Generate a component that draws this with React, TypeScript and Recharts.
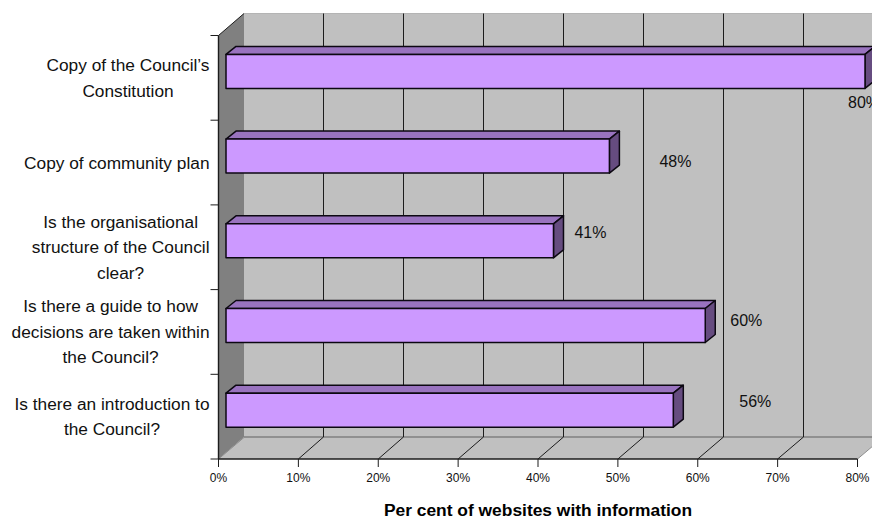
import React from "react";
import { Bar, BarChart, CartesianGrid, LabelList, ReferenceArea, XAxis, YAxis } from "recharts";

const FONT = '"Liberation Sans", Arial, sans-serif';

const categories = [
  "Copy of the Council\u2019s\nConstitution",
  "Copy of community plan",
  "Is the organisational\nstructure of the Council\nclear?",
  "Is there a guide to how\ndecisions are taken within\nthe Council?",
  "Is there an introduction to\nthe Council?",
];
const websiteShare = [80, 48, 41, 60, 56];
const percentTicks = [0, 10, 20, 30, 40, 50, 60, 70, 80];

const rows = categories.map((category, i) => ({ category, share: websiteShare[i] }));

// The data labels sit loosely around the bar ends, so each has its own nudge.
const labelNudge = [
  { dx: -1, dy: 31 },
  { dx: 66, dy: 5 },
  { dx: 37, dy: -8 },
  { dx: 41, dy: -5 },
  { dx: 82, dy: -9 },
];

const WIDTH = 872;
const HEIGHT = 519;
const PLOT = { left: 218.5, right: 14.5, top: 35.5, bottom: 60 };
const BAND = (HEIGHT - PLOT.top - PLOT.bottom) / categories.length;

// Depth of the box the chart stands in.
const WALL_DX = 25.5;
const WALL_DY = 22;
// Depth of each bar, and where it stands inside the box.
const BAR_DX = 10;
const BAR_DY = 8;
const BAR_SHIFT_X = 7.5;
const BAR_SHIFT_Y = -6.1;

const FRONT = "#cc99ff";
const TOP = "#9973bf";
const SIDE = "#664c80";
const EDGE = "#0c0812";
const AXIS = "#1c1c1c";
const TEXT_SIZE = 17.3;

const pts = (list: number[][]) => list.map((p) => p.join(",")).join(" ");

function measure(text: string, font: string) {
  const ctx = document.createElement("canvas").getContext("2d");
  if (!ctx) return text.length * 7;
  ctx.font = font;
  return ctx.measureText(text).width;
}

function Box({ x, y, width, height }: any) {
  const b = y + height;
  const r = x + width;
  return (
    <g>
      <rect x={x + WALL_DX} y={y - WALL_DY} width={width} height={height} fill="#c0c0c0" />
      <line x1={x + WALL_DX} x2={r + WALL_DX} y1={y - WALL_DY} y2={y - WALL_DY} stroke="#b4b4b4" />
      <polygon
        points={pts([[x, b], [r, b], [r + WALL_DX, b - WALL_DY], [x + WALL_DX, b - WALL_DY]])}
        fill="#c0c0c0"
      />
      <line x1={x + WALL_DX} x2={r + WALL_DX} y1={b - WALL_DY} y2={b - WALL_DY} stroke="#808080" strokeWidth={1.5} />
      <polygon
        points={pts([[x, y], [x + WALL_DX, y - WALL_DY], [x + WALL_DX, b - WALL_DY], [x, b]])}
        fill="#808080"
      />
      <line x1={x} y1={y} x2={x + WALL_DX} y2={y - WALL_DY} stroke={AXIS} />
    </g>
  );
}

function GridLine(props: any) {
  const { x1, y1, y2, index } = props;
  const edge = index === 0 || x1 > 850;
  const colour = edge ? "#8c8c8c" : AXIS;
  const backX = Math.floor(x1 + WALL_DX) + 0.5;
  return (
    <g key={`grid-${x1}`}>
      {!edge && <line x1={backX} x2={backX} y1={y1 - WALL_DY} y2={y2 - WALL_DY} stroke={AXIS} />}
      <line x1={x1} y1={y2} x2={backX} y2={y2 - WALL_DY} stroke={colour} />
    </g>
  );
}

function SolidBar({ x, y, width, height }: any) {
  const l = x + BAR_SHIFT_X;
  const t = y + BAR_SHIFT_Y;
  const r = l + width;
  const b = t + height;
  const common = { stroke: EDGE, strokeWidth: 1.5, strokeLinejoin: "round" as const };
  return (
    <g>
      <polygon
        points={pts([[l, t], [r, t], [r + BAR_DX, t - BAR_DY], [l + BAR_DX, t - BAR_DY]])}
        fill={TOP}
        {...common}
      />
      <polygon
        points={pts([[r, t], [r + BAR_DX, t - BAR_DY], [r + BAR_DX, b - BAR_DY], [r, b]])}
        fill={SIDE}
        {...common}
      />
      <rect x={l} y={t} width={width} height={height} fill={FRONT} {...common} />
    </g>
  );
}

function ShareLabel({ x, y, width, height, value, index }: any) {
  const nudge = labelNudge[index];
  return (
    <text
      x={x + BAR_SHIFT_X + width + nudge.dx}
      y={y + BAR_SHIFT_Y + height / 2 + nudge.dy}
      textAnchor="middle"
      dominantBaseline="central"
      fontFamily={FONT}
      fontSize={16}
      fill="#111111"
    >
      {value}%
    </text>
  );
}

// Category text: lines are centred on each other, the block is flush with the axis.
function CategoryTick({ y, payload, index }: any) {
  const lines: string[] = String(payload.value).split("\n");
  const font = `${TEXT_SIZE}px ${FONT}`;
  const blockWidth = Math.max(...lines.map((line) => measure(line, font)));
  const right = 209.5;
  const lineHeight = 25.5;
  const startY = y - ((lines.length - 1) * lineHeight) / 2;
  const axisX = PLOT.left;
  return (
    <g>
      <line x1={axisX - 8} x2={axisX} y1={y - BAND / 2} y2={y - BAND / 2} stroke={AXIS} />
      {index === categories.length - 1 && (
        <line x1={axisX - 8} x2={axisX} y1={y + BAND / 2} y2={y + BAND / 2} stroke={AXIS} />
      )}
      <text textAnchor="middle" fontFamily={FONT} fontSize={TEXT_SIZE} fill="#111111">
        {lines.map((line, i) => (
          <tspan key={i} x={right - blockWidth / 2} y={startY + i * lineHeight} dominantBaseline="central">
            {line}
          </tspan>
        ))}
      </text>
    </g>
  );
}

export default function App() {
  return (
    <div style={{ position: "absolute", left: 0, top: 0, width: WIDTH, height: HEIGHT, overflow: "hidden" }}>
      <BarChart
        layout="vertical"
        width={WIDTH}
        height={HEIGHT}
        data={rows}
        margin={{ left: 0, right: PLOT.right, top: PLOT.top, bottom: 0 }}
        barSize={34}
      >
        <ReferenceArea x1={0} x2={80} shape={<Box />} fill="none" stroke="none" zIndex={-200} />
        <CartesianGrid horizontal={false} vertical={GridLine as any} syncWithTicks zIndex={-100} />
        <XAxis
          type="number"
          domain={[0, 80]}
          ticks={percentTicks}
          interval={0}
          tickFormatter={(v: number) => `${v}%`}
          height={PLOT.bottom}
          tickSize={8}
          tickMargin={6}
          axisLine={{ stroke: AXIS, strokeWidth: 1.4 }}
          tickLine={{ stroke: AXIS }}
          tick={{ fontFamily: FONT, fontSize: 12, fill: "#111111" }}
          label={{
            value: "Per cent of websites with information",
            position: "insideBottom",
            offset: 3,
            style: { fontFamily: FONT, fontSize: 17.4, fontWeight: 700, fill: "#000000" },
          }}
        />
        <YAxis
          type="category"
          dataKey="category"
          width={PLOT.left}
          interval={0}
          tickLine={false}
          axisLine={{ stroke: AXIS, strokeWidth: 1.4 }}
          tick={<CategoryTick />}
        />
        <Bar dataKey="share" shape={<SolidBar />} isAnimationActive={false}>
          <LabelList dataKey="share" content={<ShareLabel />} />
        </Bar>
      </BarChart>
    </div>
  );
}
